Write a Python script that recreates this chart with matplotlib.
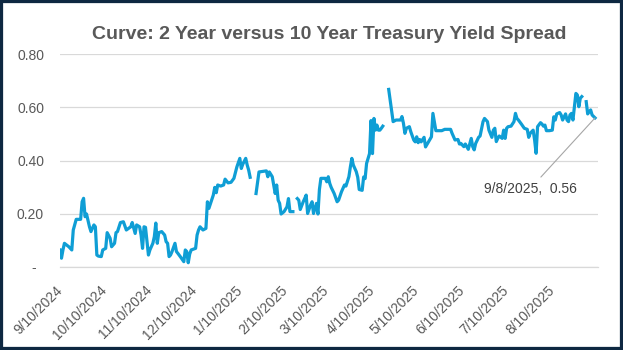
import numpy as np
import pandas as pd
import matplotlib
matplotlib.use("Agg")
import matplotlib.pyplot as plt
import matplotlib.dates as mdates
from matplotlib.patches import Rectangle
from matplotlib.ticker import FuncFormatter

# 2Y-10Y spread (None = blank cell, line is broken)
dates = [
    "2024-09-10", "2024-09-11", "2024-09-12", "2024-09-13", "2024-09-16", "2024-09-18",
    "2024-09-19", "2024-09-21", "2024-09-24", "2024-09-25", "2024-09-26", "2024-09-27",
    "2024-09-28", "2024-09-30",
    "2024-10-01", "2024-10-03", "2024-10-04", "2024-10-05", "2024-10-06", "2024-10-08",
    "2024-10-09", "2024-10-11", "2024-10-12", "2024-10-14", "2024-10-15", "2024-10-17",
    "2024-10-18", "2024-10-19", "2024-10-21", "2024-10-23", "2024-10-25", "2024-10-28",
    "2024-10-29", "2024-10-31",
    "2024-11-01", "2024-11-03", "2024-11-04", "2024-11-05", "2024-11-06", "2024-11-07",
    "2024-11-09", "2024-11-10", "2024-11-12", "2024-11-13", "2024-11-14", "2024-11-15",
    "2024-11-16", "2024-11-18", "2024-11-20", "2024-11-21", "2024-11-22", "2024-11-23",
    "2024-11-24", "2024-11-25", "2024-11-27", "2024-11-28", "2024-11-29",
    "2024-12-01", "2024-12-03", "2024-12-04", "2024-12-05", "2024-12-06", "2024-12-07",
    "2024-12-08", "2024-12-11", "2024-12-12", "2024-12-13", "2024-12-14", "2024-12-16",
    "2024-12-18", "2024-12-19", "2024-12-20", "2024-12-23", "2024-12-24", "2024-12-25",
    "2024-12-26", "2024-12-28", "2024-12-30", "2024-12-31",
    "2025-01-02", "2025-01-04", "2025-01-06", "2025-01-08", "2025-01-10", "2025-01-11",
    "2025-01-12", "2025-01-14", "2025-01-15", "2025-01-16", "2025-01-17", "2025-01-20",
    "2025-01-21", "2025-01-23", "2025-01-28", "2025-01-29", "2025-01-30",
    "2025-02-01", "2025-02-02", "2025-02-03", "2025-02-04", "2025-02-05", "2025-02-06",
    "2025-02-07", "2025-02-09", "2025-02-11", "2025-02-12", "2025-02-13", "2025-02-15",
    "2025-02-17", "2025-02-18", "2025-02-19", "2025-02-20", "2025-02-22", "2025-02-23",
    "2025-02-24", "2025-02-25", "2025-02-27", "2025-02-28",
    "2025-03-01", "2025-03-03", "2025-03-04", "2025-03-05", "2025-03-06", "2025-03-09",
    "2025-03-10", "2025-03-11", "2025-03-12", "2025-03-13", "2025-03-15", "2025-03-17",
    "2025-03-18", "2025-03-20", "2025-03-22", "2025-03-23", "2025-03-25", "2025-03-26",
    "2025-03-27", "2025-03-28", "2025-03-30", "2025-03-31",
    "2025-04-01", "2025-04-03", "2025-04-04", "2025-04-05", "2025-04-06", "2025-04-08",
    "2025-04-09", "2025-04-10", "2025-04-11", "2025-04-12", "2025-04-13", "2025-04-14",
    "2025-04-15", "2025-04-16", "2025-04-17", "2025-04-18", "2025-04-21", "2025-04-24",
    "2025-04-26", "2025-04-29", "2025-04-30",
    "2025-05-01", "2025-05-02", "2025-05-03", "2025-05-05", "2025-05-06", "2025-05-08",
    "2025-05-09", "2025-05-10", "2025-05-11", "2025-05-12", "2025-05-13", "2025-05-15",
    "2025-05-16", "2025-05-18", "2025-05-20", "2025-05-21", "2025-05-23", "2025-05-27",
    "2025-05-29",
    "2025-06-02", "2025-06-03", "2025-06-05", "2025-06-07", "2025-06-08", "2025-06-09",
    "2025-06-11", "2025-06-12", "2025-06-13", "2025-06-14", "2025-06-16", "2025-06-17",
    "2025-06-18", "2025-06-19", "2025-06-21", "2025-06-22", "2025-06-24", "2025-06-25",
    "2025-06-27", "2025-06-28", "2025-06-30",
    "2025-07-01", "2025-07-02", "2025-07-03", "2025-07-04", "2025-07-05", "2025-07-07",
    "2025-07-08", "2025-07-09", "2025-07-10", "2025-07-11", "2025-07-13", "2025-07-15",
    "2025-07-16", "2025-07-17", "2025-07-18", "2025-07-20", "2025-07-22", "2025-07-24",
    "2025-07-25", "2025-07-26", "2025-07-28", "2025-07-29", "2025-07-30", "2025-07-31",
    "2025-08-02", "2025-08-03", "2025-08-04", "2025-08-05", "2025-08-06", "2025-08-08",
    "2025-08-10", "2025-08-11", "2025-08-12", "2025-08-13", "2025-08-15", "2025-08-16",
    "2025-08-17", "2025-08-19", "2025-08-20", "2025-08-21", "2025-08-22", "2025-08-23",
    "2025-08-24", "2025-08-25", "2025-08-26", "2025-08-27", "2025-08-28", "2025-08-29",
    "2025-08-30",
    "2025-09-01", "2025-09-02", "2025-09-03", "2025-09-05", "2025-09-06", "2025-09-08",
]
spread = [
    0.064, 0.033, 0.064, 0.089, 0.076, 0.064,
    0.139, 0.179, 0.179, 0.245, 0.258, 0.189,
    0.199, 0.151,
    0.133, 0.158, 0.151, 0.045, 0.041, 0.039,
    0.064, 0.070, 0.129, 0.108, 0.076, 0.089,
    0.129, 0.133, 0.167, 0.170, 0.139, 0.151,
    0.167, 0.126,
    0.158, 0.151, 0.120, 0.070, 0.151, 0.149,
    0.045, 0.064, 0.089, 0.114, 0.165, 0.089,
    0.129, 0.133, 0.120, 0.095, 0.089, 0.039,
    0.045, 0.058, 0.089, 0.058, 0.051,
    0.036, 0.020, 0.064, 0.058, 0.016, 0.049,
    0.064, 0.070, 0.120, 0.139, 0.151, 0.139,
    0.145, 0.245, 0.220, 0.270, 0.299, 0.279,
    0.308, 0.304, 0.308, 0.330,
    0.316, 0.318, 0.333, 0.376, 0.408, 0.370,
    0.386, 0.408, 0.383, 0.364, 0.337, None,
    0.276, 0.357, 0.361, 0.339, 0.357,
    0.339, 0.308, 0.276, 0.308, 0.251, 0.239,
    0.199, 0.208, 0.226, 0.257, 0.208, 0.208,
    None, 0.257, 0.251, 0.216, 0.245, 0.257,
    0.270, 0.201, 0.233, 0.245,
    0.201, 0.239, 0.199, 0.291, 0.333, 0.333,
    0.320, 0.339, 0.314, 0.299, 0.276, 0.245,
    0.251, 0.283, 0.308, 0.304, 0.339, 0.376,
    0.408, 0.383, 0.358, 0.337,
    0.291, 0.288, 0.338, 0.332, 0.389, 0.426,
    0.550, 0.426, 0.558, 0.514, 0.533, 0.514,
    0.514, 0.521, 0.529, None, 0.667, 0.546,
    0.552, 0.552, 0.565,
    0.540, 0.502, 0.521, 0.527, 0.508, 0.477,
    0.470, 0.489, 0.467, 0.479, 0.470, 0.487,
    0.451, 0.470, 0.489, 0.577, 0.512, 0.512,
    0.517,
    0.517, 0.502, 0.477, 0.479, 0.462, 0.464,
    0.452, 0.462, 0.452, 0.442, 0.483, 0.452,
    0.440, 0.464, 0.487, 0.492, 0.546, 0.558,
    0.546, 0.514, 0.487,
    0.514, 0.521, 0.471, 0.483, 0.492, 0.483,
    0.514, 0.483, 0.521, 0.527, 0.529, 0.546,
    0.577, 0.558, 0.552, 0.537, 0.521, 0.517,
    0.487, 0.502, 0.514, 0.477, 0.427, 0.527,
    0.542, 0.537, 0.529, 0.533, 0.512, 0.512,
    0.514, 0.564, 0.552, 0.575, 0.580, 0.571,
    0.552, 0.575, 0.552, 0.546, 0.571, 0.577,
    0.552, 0.602, 0.652, 0.646, 0.602, 0.634,
    0.640,
    None, 0.621, 0.575, 0.590, 0.571, 0.56,
]
tick_dates = ["2024-09-10", "2024-10-10", "2024-11-10", "2024-12-10", "2025-01-10",
              "2025-02-10", "2025-03-10", "2025-04-10", "2025-05-10", "2025-06-10",
              "2025-07-10", "2025-08-10"]
y_ticks = [0, 0.2, 0.4, 0.6, 0.8]
last_label = "9/8/2025,  0.56"

x = pd.to_datetime(dates)
y = np.array([np.nan if v is None else v for v in spread], dtype=float)

plt.rcParams["font.family"] = ["Liberation Sans", "DejaVu Sans"]

fig = plt.figure(figsize=(6.23, 3.5), dpi=100)
ax = fig.add_axes([60 / 623, 1 - 267 / 350, 538 / 623, 213 / 350])

ax.plot(x, y, color="#0F9ED5", lw=2.3, solid_joinstyle="round")

ax.set_ylim(0, 0.8)
ax.set_xlim(pd.Timestamp("2024-09-10"), pd.Timestamp("2025-09-10"))
ax.set_yticks(y_ticks)
ax.yaxis.set_major_formatter(FuncFormatter(lambda v, p: "-  " if v == 0 else f"{v:.2f}"))
ax.set_xticks(pd.to_datetime(tick_dates))
ax.xaxis.set_major_formatter(FuncFormatter(
    lambda v, p: "{d.month}/{d.day}/{d.year}".format(d=mdates.num2date(v))))

ax.grid(axis="y", color="#D9D9D9", lw=0.9)
ax.set_axisbelow(True)
for s in ["top", "right", "left"]:
    ax.spines[s].set_visible(False)
ax.spines["bottom"].set_color("#D9D9D9")
ax.spines["bottom"].set_linewidth(0.9)
ax.tick_params(axis="y", length=0, pad=11.5, labelsize=10, labelcolor="#595959")
ax.tick_params(axis="x", length=0, pad=15, labelsize=10, labelcolor="#595959")
for lab in ax.get_xticklabels():
    lab.set_rotation(45)
    lab.set_ha("right")
    lab.set_va("center")
    lab.set_rotation_mode("anchor")

# data label on the last point
ax.annotate(last_label, xy=(x[-1], y[-1]), xytext=(-65, -71), textcoords="offset pixels",
            ha="center", va="center", fontsize=10, color="#404040",
            arrowprops=dict(arrowstyle="-", color="#A6A6A6", lw=0.8,
                            shrinkA=2, shrinkB=0))

fig.text(329 / 623, 1 - 39 / 350, "Curve: 2 Year versus 10 Year Treasury Yield Spread",
         ha="center", va="baseline", fontsize=14, fontweight="bold", color="#595959",
         family=["Liberation Sans Narrow", "Liberation Sans", "DejaVu Sans"])

fig.patches.append(Rectangle((0, 0), 1, 1, transform=fig.transFigure, fill=False,
                             edgecolor="#0E2841", lw=4.5, zorder=10))

fig.savefig("out.png", dpi=100)
